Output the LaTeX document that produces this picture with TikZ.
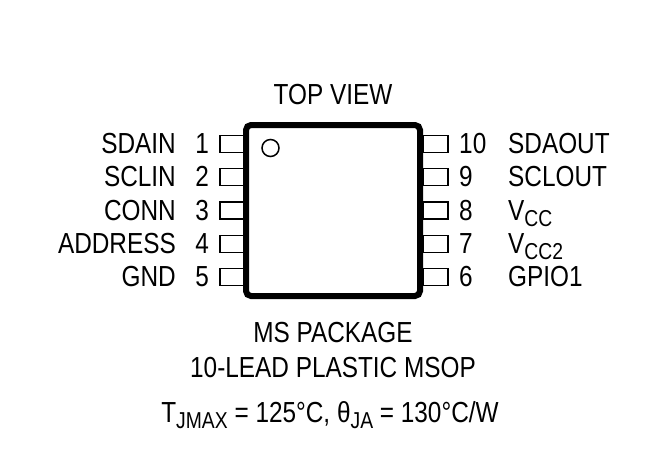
\documentclass[tikz,border=0pt]{standalone}
\usepackage{fontspec}
\setmainfont[FakeStretch=0.84]{Liberation Sans}
\newcommand{\lowtxt}[1]{\raisebox{-6pt}{\fontsize{23}{23}\selectfont #1}}
\tikzset{
  chip/.style={draw,line width=6pt,rounded corners=5pt,minimum width=174pt,minimum height=171pt,inner sep=0pt},
  pinbox/.style={draw,line width=1.5pt,minimum width=25pt,minimum height=17pt,inner sep=0pt},
  txt/.style={inner sep=0pt,font=\fontsize{29}{29}\selectfont},
}
\begin{document}
\begin{tikzpicture}[x=1pt,y=-1pt]
  \useasboundingbox (0,0) rectangle (660,460);
  \foreach \i/\y/\na/\nb/\pa/\pb in {1/144/SDAIN/SDAOUT/1/10,2/177/SCLIN/SCLOUT/2/9,3/210.5/CONN/{V\lowtxt{CC}}/3/8,4/244/ADDRESS/{V\lowtxt{CC2}}/4/7,5/277/GND/GPIO1/5/6}{
    \node[pinbox] (pl\i) at (232.5,\y) {};
    \node[pinbox] (pr\i) at (435.5,\y) {};
    \node[txt,anchor=base east] (nl\i) at (209,\y+9.5) {\pa};
    \node[txt,anchor=base east] (tl\i) at (176,\y+9.5) {\na};
    \node[txt,anchor=base west] (nr\i) at (459,\y+9.5) {\pb};
    \node[txt,anchor=base west] (tr\i) at (508,\y+9.5) {\nb};
  }
  \node[chip,fill=white] (ic) at (333,210.5) {};
  \node[draw,circle,line width=1.5pt,minimum size=17pt,inner sep=0pt] (dot) at (270.5,148) {};
  \node[txt,anchor=base] (top) at (333,104) {TOP VIEW};
  \node[txt,anchor=base] (pkg) at (333,342) {MS PACKAGE};
  \node[txt,anchor=base] (lead) at (333,377) {10-LEAD PLASTIC MSOP};
  \node[txt,anchor=base] (therm) at (330,422) {T\lowtxt{JMAX} = 125°C, θ\lowtxt{JA} = 130°C/W};
\end{tikzpicture}
\end{document}
